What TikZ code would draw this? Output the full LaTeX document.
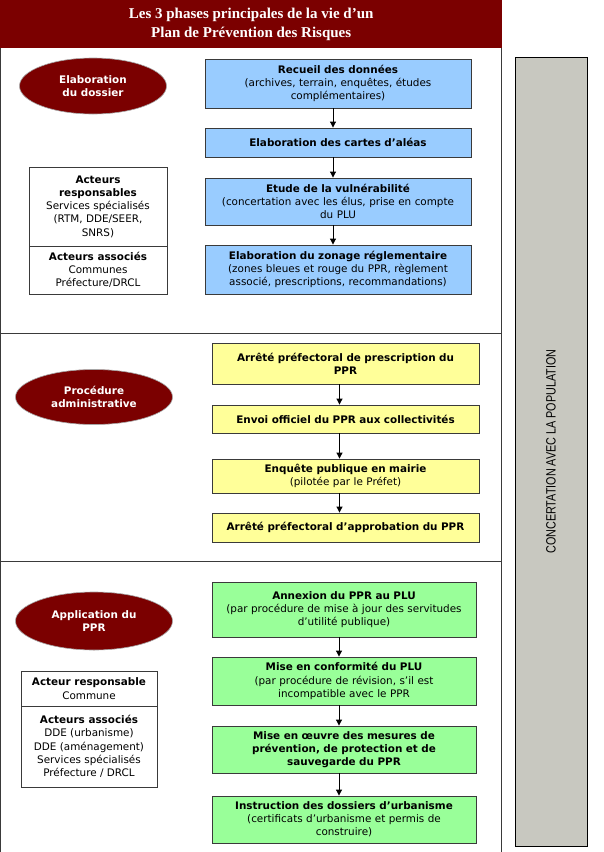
\documentclass[tikz,border=0pt]{standalone}
\usepackage{fontspec}
\setmainfont{DejaVu Sans}
\newfontfamily\titlefont{Liberation Serif}
\newfontfamily\narrowfont[FakeStretch=0.8]{Liberation Sans}
\usetikzlibrary{shapes.geometric,arrows.meta}
\definecolor{dred}{HTML}{7B0000}
\definecolor{bluef}{HTML}{99CCFF}
\definecolor{yelf}{HTML}{FFFF99}
\definecolor{grnf}{HTML}{99FF99}
\definecolor{barf}{HTML}{C8C8C0}
\definecolor{edgec}{HTML}{3A3A3A}
\tikzset{
  boxbase/.style={draw=edgec, line width=0.9pt, inner sep=0pt, align=center,
    font=\fontsize{10.4}{13.2}\selectfont, text=black},
  bluebox/.style={boxbase, fill=bluef, minimum width=266pt, text width=262pt},
  yelbox/.style={boxbase, fill=yelf, minimum width=267pt, text width=262pt},
  grnbox/.style={boxbase, fill=grnf, minimum width=264pt, text width=260pt},
  phase/.style={ellipse, draw=gray!70, line width=0.6pt, fill=dred, inner sep=0pt,
    text=white, align=center, font=\bfseries\fontsize{10.4}{13.2}\selectfont},
  actbox/.style={draw=edgec, line width=0.9pt, fill=white, inner sep=0pt, align=center,
    font=\fontsize{10.4}{13.3}\selectfont},
  arr/.style={line width=1pt, -{Triangle[length=6pt,width=6pt]}},
  framel/.style={draw=edgec, line width=0.9pt}
}
\begin{document}
\begin{tikzpicture}[x=1pt,y=-1pt]
\useasboundingbox (0,0) rectangle (604,852);
\fill[white] (0,0) rectangle (604,852);

% title bar
\node[fill=dred, minimum width=502pt, minimum height=48pt, inner sep=0pt, anchor=north west,
  text=white, align=center, font=\titlefont\bfseries\fontsize{15}{19}\selectfont] (title) at (0,0)
  {Les 3 phases principales de la vie d’un\\Plan de Prévention des Risques};

% frame
\draw[framel] (0.5,48) -- (0.5,852);
\draw[framel] (501.5,48) -- (501.5,852);
\draw[framel] (0.5,333) -- (501.5,333);
\draw[framel] (0.5,561) -- (501.5,561);

% concertation bar
\node[draw=black, line width=0.9pt, fill=barf, rotate=90, minimum width=789pt, minimum height=72pt,
  inner sep=0pt, font=\narrowfont\fontsize{13.5}{15}\selectfont, text=black] (bar) at (551,451.5)
  {CONCERTATION AVEC LA POPULATION};

% ---- section 1
\node[phase, minimum width=147pt, minimum height=56pt] (e1) at (93,86) {Elaboration\\du dossier};
\node[bluebox, minimum height=49pt] (b1) at (338,83.5)
  {\textbf{Recueil des données}\\(archives, terrain, enquêtes, études\\complémentaires)};
\node[bluebox, minimum height=29pt] (b2) at (338,142.5)
  {\textbf{Elaboration des cartes d’aléas}};
\node[bluebox, minimum height=47pt] (b3) at (338,201.5)
  {\textbf{Etude de la vulnérabilité}\\(concertation avec les élus, prise en compte\\du PLU};
\node[bluebox, minimum height=49pt] (b4) at (338,269.5)
  {\textbf{Elaboration du zonage réglementaire}\\(zones bleues et rouge du PPR, règlement\\associé, prescriptions, recommandations)};
\draw[arr] ([xshift=-5pt]b1.south) -- ([xshift=-5pt]b2.north);
\draw[arr] ([xshift=-5pt]b2.south) -- ([xshift=-5pt]b3.north);
\draw[arr] ([xshift=-5pt]b3.south) -- ([xshift=-5pt]b4.north);

\node[actbox, minimum width=138pt, minimum height=79pt] (a1t) at (98,206.5)
  {\textbf{Acteurs}\\\textbf{responsables}\\Services spécialisés\\(RTM, DDE/SEER,\\SNRS)};
\node[actbox, minimum width=138pt, minimum height=48pt] (a1b) at (98,270)
  {\textbf{Acteurs associés}\\Communes\\Préfecture/DRCL};

% ---- section 2
\node[phase, minimum width=157pt, minimum height=55pt] (e2) at (94,397) {Procédure\\administrative};
\node[yelbox, minimum height=41pt] (y1) at (345.5,363.5)
  {\textbf{Arrêté préfectoral de prescription du}\\\textbf{PPR}};
\node[yelbox, minimum height=28pt] (y2) at (345.5,419)
  {\textbf{Envoi officiel du PPR aux collectivités}};
\node[yelbox, minimum height=34pt] (y3) at (345.5,476)
  {\textbf{Enquête publique en mairie}\\(pilotée par le Préfet)};
\node[yelbox, minimum height=29pt] (y4) at (345.5,527.5)
  {\textbf{Arrêté préfectoral d’approbation du PPR}};
\draw[arr] ([xshift=-6pt]y1.south) -- ([xshift=-6pt]y2.north);
\draw[arr] ([xshift=-6pt]y2.south) -- ([xshift=-6pt]y3.north);
\draw[arr] ([xshift=-6pt]y3.south) -- ([xshift=-6pt]y4.north);

% ---- section 3
\node[phase, minimum width=157pt, minimum height=58pt] (e3) at (94,621) {Application du\\PPR};
\node[grnbox, minimum height=55pt] (g1) at (344,609.5)
  {\textbf{Annexion du PPR au PLU}\\(par procédure de mise à jour des servitudes\\d’utilité publique)};
\node[grnbox, minimum height=48pt] (g2) at (344,681)
  {\textbf{Mise en conformité du PLU}\\(par procédure de révision, s’il est\\incompatible avec le PPR};
\node[grnbox, minimum height=47pt] (g3) at (344,749.5)
  {\textbf{Mise en œuvre des mesures de}\\\textbf{prévention, de protection et de}\\\textbf{sauvegarde du PPR}};
\node[grnbox, minimum height=47pt] (g4) at (344,819.5)
  {\textbf{Instruction des dossiers d’urbanisme}\\(certificats d’urbanisme et permis de\\construire)};
\draw[arr] ([xshift=-5pt]g1.south) -- ([xshift=-5pt]g2.north);
\draw[arr] ([xshift=-5pt]g2.south) -- ([xshift=-5pt]g3.north);
\draw[arr] ([xshift=-5pt]g3.south) -- ([xshift=-5pt]g4.north);

\node[actbox, minimum width=136pt, minimum height=35pt] (a2t) at (89,688.5)
  {\textbf{Acteur responsable}\\Commune};
\node[actbox, minimum width=136pt, minimum height=81pt] (a2b) at (89,746.5)
  {\textbf{Acteurs associés}\\DDE (urbanisme)\\DDE (aménagement)\\Services spécialisés\\Préfecture / DRCL};
\end{tikzpicture}
\end{document}
